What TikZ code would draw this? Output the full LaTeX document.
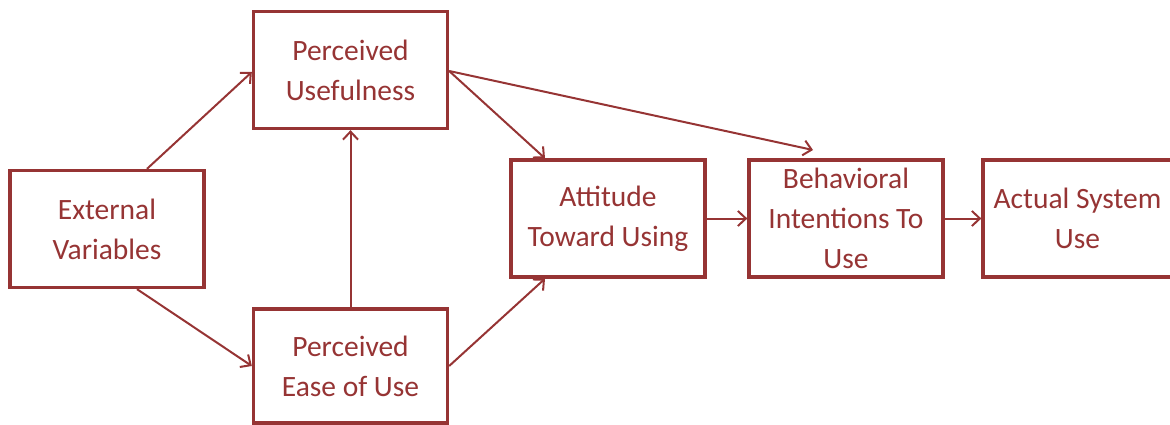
\documentclass[tikz,border=0pt]{standalone}
\usepackage{fontspec}
\setmainfont{Carlito}
\usetikzlibrary{arrows.meta}
\definecolor{tamred}{HTML}{963434}
\begin{document}
\begin{tikzpicture}[x=1pt,y=-1pt,
  box/.style={draw=tamred, line width=3.3pt, text=tamred,
    font=\fontsize{29.5}{40}\selectfont, align=center, inner sep=0pt,
    minimum width=194pt, minimum height=117pt},
  conn/.style={draw=tamred, line width=2pt,
    -{Straight Barb[length=8pt,width=15pt,line width=2pt]}}]
\useasboundingbox (0,0) rectangle (1170,425);
\node[box] (EV)  at (107,229)   {External\\Variables};
\node[box] (PU)  at (350.5,70)  {Perceived\\Usefulness};
\node[box, minimum height=114pt] (PEU) at (350.5,366) {Perceived\\Ease of Use};
\node[box] (ATU) at (608,218.5) {Attitude\\Toward Using};
\node[box] (BI)  at (846,218.5) {Behavioral\\Intentions To\\Use};
\node[box, minimum width=189pt] (ASU) at (1077.5,218.5) {Actual System\\Use};
\coordinate (BItip) at (813,150);
\draw[conn] ([xshift=40pt]EV.north) -- ([yshift=-2pt]PU.west);
\draw[conn] ([xshift=30pt]EV.south) -- (PEU.west);
\draw[conn] (PEU.north) -- (PU.south);
\draw[conn] ([yshift=-1pt]PU.east) -- ([xshift=-63pt]ATU.north);
\draw[conn] ([yshift=-1pt]PU.east) -- (BItip);
\draw[conn] (PEU.east) -- ([xshift=-63pt]ATU.south);
\draw[conn] (ATU.east) -- (BI.west);
\draw[conn] (BI.east) -- (ASU.west);
\end{tikzpicture}
\end{document}
